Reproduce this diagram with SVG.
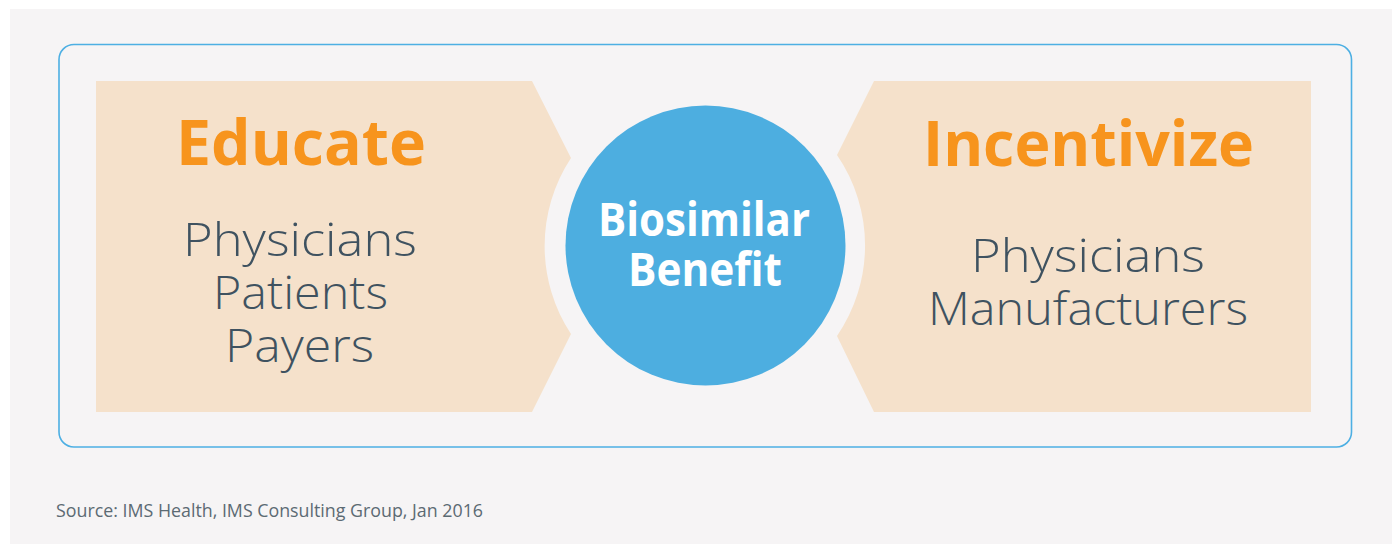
<svg xmlns="http://www.w3.org/2000/svg" width="1392" height="544" viewBox="0 0 1392 544">
  <style>
    .panel { fill: #f5e1cb; }
    .head { font-family: "Open Sans", Lato, sans-serif; font-weight: 700; fill: #f7941d; text-anchor: middle; font-size: 63px; }
    .item { font-family: "Open Sans", Lato, sans-serif; font-weight: 300; fill: #3f5260; text-anchor: middle; font-size: 46px; }
    .core { font-family: "Open Sans", Lato, sans-serif; font-weight: 700; fill: #ffffff; text-anchor: middle; font-size: 46px; }
    .src { font-family: "Open Sans", Lato, sans-serif; font-size: 17.5px; fill: #5c6a73; }
  </style>
  <rect x="0" y="0" width="1392" height="544" fill="#ffffff"/>
  <rect x="10" y="9" width="1382" height="535" fill="#f6f4f5"/>
  <rect id="frame" x="59" y="44.5" width="1292.5" height="402.5" rx="15" ry="15" fill="none" stroke="#4dafe3" stroke-width="1.6"/>
  <g id="educate">
    <path class="panel" d="M96 81 H532 L571 158 A160 160 0 0 0 571 334 L532 412 H96 Z"/>
    <text class="head" x="301" y="165" textLength="250" lengthAdjust="spacingAndGlyphs">Educate</text>
    <text class="item" x="300" y="256" textLength="234" lengthAdjust="spacingAndGlyphs">Physicians</text>
    <text class="item" x="300.5" y="308.5" textLength="175" lengthAdjust="spacingAndGlyphs">Patients</text>
    <text class="item" x="299.5" y="362" textLength="149" lengthAdjust="spacingAndGlyphs">Payers</text>
  </g>
  <g id="incentivize">
    <path class="panel" d="M874 81 H1311 V412 H874 L837 336 A160 160 0 0 0 837 155 Z"/>
    <text class="head" x="1088.5" y="166" textLength="331" lengthAdjust="spacingAndGlyphs">Incentivize</text>
    <text class="item" x="1088" y="272" textLength="234" lengthAdjust="spacingAndGlyphs">Physicians</text>
    <text class="item" x="1088" y="325" textLength="320" lengthAdjust="spacingAndGlyphs">Manufacturers</text>
  </g>
  <g id="benefit">
    <circle cx="705.5" cy="245.5" r="140" fill="#4daee0"/>
    <text class="core" x="704" y="236" textLength="212" lengthAdjust="spacingAndGlyphs">Biosimilar</text>
    <text class="core" x="705" y="286" textLength="154" lengthAdjust="spacingAndGlyphs">Benefit</text>
  </g>
  <g id="connectors"></g>
  <text class="src" x="56" y="517" textLength="427" lengthAdjust="spacingAndGlyphs">Source: IMS Health, IMS Consulting Group, Jan 2016</text>
</svg>
